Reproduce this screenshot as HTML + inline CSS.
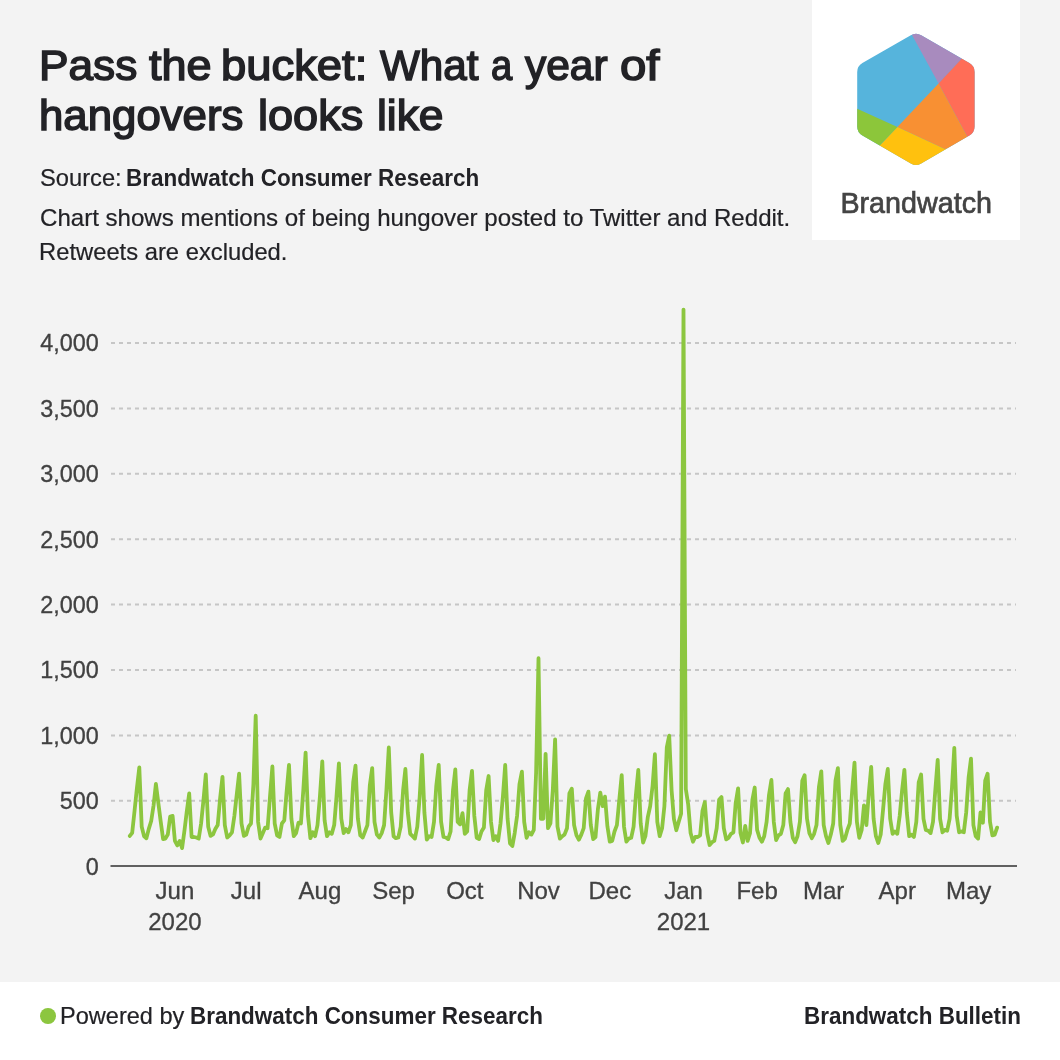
<!DOCTYPE html>
<html lang="en">
<head>
<meta charset="utf-8">
<title>Pass the bucket: What a year of hangovers looks like</title>
<style>
html,body{margin:0;padding:0;}
body{width:1060px;height:1060px;background:#f3f3f3;position:relative;overflow:hidden;font-family:"Liberation Sans",Arial,sans-serif;color:#222;}
.abs{position:absolute;white-space:nowrap;}
.tx{position:absolute;white-space:nowrap;display:block;transform-origin:0 0;margin:0;padding:0;}
.t42{font-size:42px;line-height:50px;font-weight:normal;color:#222226;-webkit-text-stroke:1.5px #222226;}
.t22{font-size:24px;line-height:36px;color:#222226;-webkit-text-stroke:0.2px #222226;}
.b{font-weight:bold;-webkit-text-stroke:0;}
.logo{left:812px;top:0;width:208px;height:240px;background:#fff;}
.footer{left:0;top:982px;width:1060px;height:78px;background:#fff;}
.dot{left:39.9px;top:1008.2px;width:15.8px;height:15.8px;border-radius:50%;background:#8cc63f;}
svg text{font-family:"Liberation Sans",Arial,sans-serif;}
</style>
</head>
<body>
<h1 style="margin:0;font-weight:normal"><span class="tx t42" style="left:38.92px;top:41.00px;transform:scaleX(1.0530)">Pass</span> <span class="tx t42" style="left:148.71px;top:41.00px;transform:scaleX(1.0713)">the</span> <span class="tx t42" style="left:221.30px;top:41.00px;transform:scaleX(1.0802)">bucket:</span> <span class="tx t42" style="left:379.77px;top:41.00px;transform:scaleX(1.0052)">What</span> <span class="tx t42" style="left:490.92px;top:41.00px;transform:scaleX(0.9078)">a</span> <span class="tx t42" style="left:525.25px;top:41.00px;transform:scaleX(1.0103)">year</span> <span class="tx t42" style="left:619.90px;top:41.00px;transform:scaleX(1.1279)">of</span> <span class="tx t42" style="left:39.35px;top:91.00px;transform:scaleX(1.0423)">hangovers</span> <span class="tx t42" style="left:257.66px;top:91.00px;transform:scaleX(1.0729)">looks</span> <span class="tx t42" style="left:376.59px;top:91.00px;transform:scaleX(1.0557)">like</span></h1>
<span class="tx t22" style="left:39.88px;top:160.00px;transform:scaleX(0.9876)">Source:</span>
<span class="tx t22 b" style="left:125.85px;top:160.00px;transform:scaleX(0.9355)">Brandwatch Consumer Research</span>
<span class="tx t22" style="left:40.00px;top:200.00px;transform:scaleX(1.0030)">Chart shows mentions of being hungover posted to Twitter and Reddit.</span>
<span class="tx t22" style="left:39.46px;top:234.00px;transform:scaleX(0.9906)">Retweets are excluded.</span>

<div class="abs logo">
<svg width="208" height="240" viewBox="812 0 208 240">
  <defs>
    <clipPath id="hex"><path d="M910.8,35.2 Q916.0,32.2 921.2,35.2 L969.4,63.0 Q974.6,66.0 974.6,72.0 L974.6,126.6 Q974.6,132.6 969.4,135.6 L921.2,163.4 Q916.0,166.4 910.8,163.4 L862.4,135.6 Q857.2,132.6 857.2,126.6 L857.2,72.0 Q857.2,66.0 862.4,63.0 Z"/></clipPath>
  </defs>
  <g clip-path="url(#hex)">
    <rect x="850" y="25" width="135" height="150" fill="#56b4dc"/>
    <polygon points="906.5,25 938.6,83.4 968,52 960,25" fill="#a88bbe"/>
    <polygon points="938.600,83.400 961.900,58.400 990,50 990,150 967.500,136.900" fill="#ff6d57"/>
    <polygon points="938.600,83.400 967.500,136.900 972,145 944.700,149.100 897.400,127" fill="#f89033"/>
    <polygon points="897.400,127 944.700,149.100 972,145 960,175 870,175 879.700,145.400" fill="#ffc10e"/>
    <polygon points="897.400,127 879.700,145.400 870,175 850,175 850,108.700 857.200,108.700" fill="#8cc63a"/>
  </g>
  <text x="916.2" y="212.5" text-anchor="middle" font-size="29" fill="#444" stroke="#444" stroke-width="0.7" textLength="151.5" lengthAdjust="spacingAndGlyphs">Brandwatch</text>
</svg>
</div>

<svg class="abs" style="left:0;top:280px" width="1060" height="680" viewBox="0 280 1060 680">
  <g stroke="#c6c6c6" stroke-width="2" stroke-dasharray="4,4" fill="none"><line x1="111" x2="1016" y1="800.8" y2="800.8"/><line x1="111" x2="1016" y1="735.4" y2="735.4"/><line x1="111" x2="1016" y1="670.0" y2="670.0"/><line x1="111" x2="1016" y1="604.6" y2="604.6"/><line x1="111" x2="1016" y1="539.2" y2="539.2"/><line x1="111" x2="1016" y1="473.8" y2="473.8"/><line x1="111" x2="1016" y1="408.4" y2="408.4"/><line x1="111" x2="1016" y1="343.0" y2="343.0"/></g>
  <g font-size="24" fill="#414141" stroke="#414141" stroke-width="0.3" text-anchor="end" transform="translate(98.9 0) scale(0.975 1) translate(-98.9 0)"><text x="98.9" y="874.7">0</text><text x="98.9" y="809.3">500</text><text x="98.9" y="743.9">1,000</text><text x="98.9" y="678.5">1,500</text><text x="98.9" y="613.1">2,000</text><text x="98.9" y="547.7">2,500</text><text x="98.9" y="482.3">3,000</text><text x="98.9" y="416.9">3,500</text><text x="98.9" y="351.5">4,000</text></g>
  <polyline points="129.8,835.9 132.2,832.8 134.6,810.4 136.9,788.3 139.3,767.4 141.7,826.7 144.1,836.2 146.4,838.2 148.8,828.9 151.2,821.0 153.6,805.3 155.9,784.0 158.3,802.7 160.7,821.4 163.1,839.1 165.4,838.6 167.8,834.6 170.2,816.5 172.6,815.9 174.9,840.9 177.3,845.4 179.7,840.9 182.1,848.1 184.5,830.2 186.8,811.3 189.2,793.4 191.6,837.0 194.0,837.0 196.3,837.5 198.7,838.6 201.1,823.5 203.5,799.8 205.8,774.5 208.2,826.7 210.6,835.9 213.0,834.4 215.3,829.1 217.7,825.1 220.1,798.3 222.5,776.8 224.8,825.1 227.2,837.5 229.6,835.4 232.0,832.3 234.4,815.7 236.7,795.0 239.1,773.7 241.5,823.5 243.9,835.9 246.2,834.6 248.6,826.7 251.0,823.5 253.4,784.4 255.7,715.7 258.1,821.9 260.5,838.6 262.9,833.1 265.2,827.6 267.6,828.2 270.0,796.6 272.4,766.5 274.7,823.5 277.1,835.4 279.5,837.0 281.9,823.5 284.3,820.4 286.6,791.9 289.0,764.9 291.4,818.8 293.8,836.2 296.1,833.1 298.5,822.7 300.9,823.5 303.3,790.3 305.6,752.6 308.0,815.7 310.4,838.2 312.8,832.3 315.1,836.2 317.5,825.1 319.9,796.6 322.3,761.5 324.6,820.4 327.0,836.2 329.4,832.3 331.8,833.8 334.2,825.1 336.5,796.6 338.9,763.3 341.3,818.8 343.7,833.1 346.0,829.1 348.4,832.3 350.8,825.1 353.2,782.3 355.5,765.7 357.9,818.8 360.3,835.4 362.7,837.5 365.0,831.5 367.4,825.1 369.8,785.6 372.2,768.1 374.5,821.9 376.9,834.6 379.3,837.5 381.7,833.1 384.1,825.1 386.4,790.3 388.8,747.5 391.2,812.5 393.6,836.2 395.9,838.2 398.3,837.5 400.7,826.7 403.1,790.3 405.4,769.0 407.8,812.5 410.2,833.8 412.6,836.2 414.9,838.6 417.3,826.7 419.7,796.6 422.1,755.0 424.4,812.5 426.8,839.7 429.2,836.2 431.6,837.0 434.0,821.9 436.3,785.6 438.7,764.9 441.1,821.9 443.5,837.0 445.8,837.5 448.2,839.1 450.6,831.5 453.0,790.3 455.3,769.4 457.7,821.9 460.1,824.3 462.5,813.2 464.8,833.8 467.2,831.5 469.6,790.3 472.0,770.8 474.3,815.7 476.7,837.8 479.1,839.1 481.5,831.5 483.9,827.6 486.2,790.3 488.6,776.0 491.0,821.9 493.4,840.1 495.7,836.2 498.1,840.9 500.5,823.5 502.9,796.6 505.2,764.9 507.6,818.8 510.0,843.4 512.4,846.0 514.7,833.1 517.1,815.7 519.5,784.0 521.9,771.7 524.2,821.9 526.6,837.8 529.0,832.3 531.4,834.6 533.8,829.9 536.1,772.9 538.5,658.2 540.9,818.8 543.3,818.8 545.6,753.8 548.0,828.2 550.4,823.5 552.8,790.3 555.1,739.3 557.5,826.7 559.9,838.6 562.3,836.2 564.6,834.4 567.0,828.2 569.4,793.4 571.8,788.7 574.1,825.1 576.5,835.4 578.9,839.7 581.3,834.6 583.7,828.2 586.0,798.3 588.4,791.6 590.8,825.1 593.2,839.1 595.5,837.0 597.9,809.3 600.3,792.6 602.7,806.1 605.0,796.6 607.4,826.3 609.8,841.7 612.2,840.9 614.5,831.5 616.9,825.1 619.3,799.8 621.7,775.2 624.0,826.7 626.4,841.7 628.8,838.6 631.2,837.8 633.6,826.7 635.9,795.0 638.3,770.0 640.7,823.5 643.1,842.5 645.4,836.2 647.8,817.2 650.2,806.1 652.6,785.6 654.9,754.2 657.3,821.9 659.7,836.2 662.1,828.2 664.4,806.1 666.8,747.5 669.2,735.6 671.6,790.3 673.9,818.8 676.3,830.2 678.7,821.9 681.1,813.8 683.5,309.6 685.8,789.0 688.2,804.5 690.6,833.1 693.0,841.7 695.3,837.0 697.7,837.0 700.1,835.4 702.5,810.8 704.8,802.2 707.2,833.1 709.6,845.0 712.0,842.2 714.3,840.9 716.7,828.2 719.1,799.8 721.5,797.1 723.8,828.2 726.2,839.3 728.6,837.8 731.0,833.8 733.4,832.3 735.7,803.0 738.1,788.3 740.5,833.1 742.9,842.5 745.2,825.9 747.6,840.9 750.0,833.1 752.4,799.8 754.7,787.5 757.1,829.9 759.5,837.8 761.9,841.7 764.2,836.2 766.6,821.9 769.0,795.0 771.4,780.0 773.8,821.9 776.1,840.1 778.5,835.4 780.9,833.8 783.3,825.1 785.6,793.4 788.0,789.1 790.4,821.9 792.8,837.8 795.1,842.2 797.5,836.2 799.9,821.9 802.3,780.7 804.6,775.2 807.0,818.8 809.4,833.1 811.8,838.2 814.1,833.8 816.5,825.1 818.9,787.2 821.3,771.3 823.7,825.1 826.0,836.2 828.4,843.0 830.8,834.6 833.2,823.5 835.5,780.7 837.9,768.1 840.3,825.1 842.7,840.9 845.0,838.6 847.4,829.9 849.8,823.5 852.2,790.3 854.5,762.6 856.9,821.9 859.3,837.8 861.7,829.9 864.0,805.3 866.4,825.1 868.8,793.4 871.2,767.0 873.6,818.8 875.9,836.2 878.3,843.0 880.7,834.6 883.1,809.3 885.4,784.0 887.8,769.0 890.2,818.8 892.6,833.8 894.9,831.5 897.3,833.8 899.7,815.7 902.1,790.3 904.4,769.8 906.8,812.5 909.2,836.2 911.6,834.6 913.9,837.0 916.3,821.9 918.7,782.3 921.1,774.5 923.5,818.8 925.8,829.9 928.2,830.7 930.6,833.1 933.0,821.9 935.3,790.3 937.7,759.8 940.1,818.8 942.5,832.3 944.8,829.9 947.2,830.7 949.6,818.8 952.0,787.2 954.3,747.8 956.7,815.7 959.1,832.3 961.5,831.5 963.8,832.3 966.2,812.5 968.6,777.6 971.0,758.6 973.4,825.1 975.7,836.2 978.1,838.6 980.5,812.5 982.9,822.7 985.2,780.7 987.6,773.7 990.0,821.9 992.4,835.4 994.7,834.6 997.1,827.6" fill="none" stroke="#8cc63f" stroke-width="3.8" stroke-linejoin="round" stroke-linecap="round"/>
  <line x1="110.5" x2="1017" y1="865.9" y2="865.9" stroke="#606060" stroke-width="2"/>
  <g font-size="24" fill="#414141" stroke="#414141" stroke-width="0.3" text-anchor="middle"><text x="174.9" y="899">Jun</text><text x="174.9" y="929.8">2020</text><text x="246.2" y="899">Jul</text><text x="319.9" y="899">Aug</text><text x="393.6" y="899">Sep</text><text x="464.8" y="899">Oct</text><text x="538.5" y="899">Nov</text><text x="609.8" y="899">Dec</text><text x="683.5" y="899">Jan</text><text x="683.5" y="929.8">2021</text><text x="757.1" y="899">Feb</text><text x="823.7" y="899">Mar</text><text x="897.3" y="899">Apr</text><text x="968.6" y="899">May</text></g>
</svg>

<div class="abs footer"></div>
<div class="abs dot"></div>
<span class="tx t22" style="left:60.18px;top:998.00px;transform:scaleX(0.9807)">Powered by</span>
<span class="tx t22 b" style="left:190.35px;top:998.00px;transform:scaleX(0.9349)">Brandwatch Consumer Research</span>
<span class="tx t22 b" style="left:803.55px;top:998.00px;transform:scaleX(0.9352)">Brandwatch Bulletin</span>
</body>
</html>
